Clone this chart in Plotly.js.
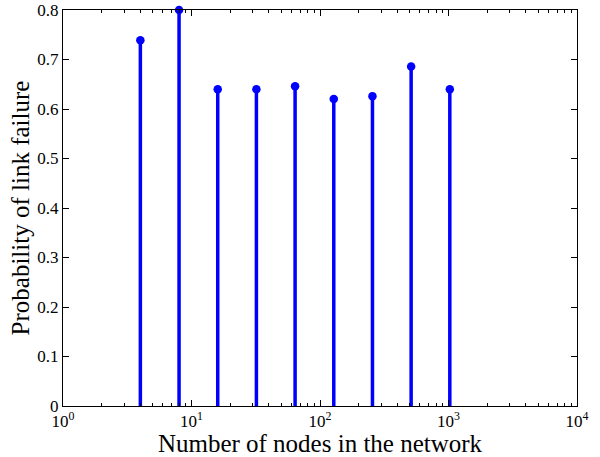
<!DOCTYPE html>
<html><head><meta charset="utf-8">
<script src="https://cdn.plot.ly/plotly-3.0.1.min.js"></script>
<style>body{margin:0;background:#fff}#c{width:600px;height:457px}</style>
</head><body><div id="c"></div>
<script>
const nodes = [4, 8, 16, 32, 64, 128, 256, 512, 1024];
const probFailure = [0.739, 0.80, 0.640, 0.640, 0.646, 0.620, 0.626, 0.686, 0.640];
const xTickVals = [1, 10, 100, 1000, 10000];
const xTickText = ['10<sup>0</sup>', '10<sup>1</sup>', '10<sup>2</sup>', '10<sup>3</sup>', '10<sup>4</sup>'];
const yTickVals = [0, 0.1, 0.2, 0.3, 0.4, 0.5, 0.6, 0.7, 0.8];
const yTickText = ['0', '0.1', '0.2', '0.3', '0.4', '0.5', '0.6', '0.7', '0.8'];

const minorVals = [];
for (let d = 1; d < 10000; d *= 10) for (let k = 2; k <= 9; k++) minorVals.push(d * k);

const sx = [], sy = [];
nodes.forEach((n, i) => { sx.push(n, n, null); sy.push(0, probFailure[i], null); });

const traces = [
  {x: sx, y: sy, mode: 'lines', line: {color: '#0000ff', width: 3.5}, hoverinfo: 'skip', cliponaxis: false},
  {x: nodes, y: probFailure, mode: 'markers', marker: {color: '#0000ff', size: 8.5}, cliponaxis: false}
];
const font = {family: '"Liberation Serif", "Times New Roman", serif', color: '#000'};
const layout = {
  width: 600, height: 457,
  margin: {l: 63, r: 23, t: 10, b: 51},
  showlegend: false,
  paper_bgcolor: '#fff', plot_bgcolor: '#fff',
  font: font,
  xaxis: {
    type: 'log', range: [0, 4],
    tickmode: 'array', tickvals: xTickVals, ticktext: xTickText,
    ticks: 'inside', ticklen: 6, tickcolor: '#000', tickwidth: 1,
    minor: {tickmode: 'array', tickvals: minorVals, ticks: 'inside', ticklen: 3, tickcolor: '#000', showgrid: false},
    showline: true, linecolor: '#000', linewidth: 1, mirror: 'ticks',
    showgrid: false, zeroline: false,
    tickfont: {family: font.family, size: 17, color: '#000'},
    title: {text: 'Number of nodes in the network', font: {family: font.family, size: 25, color: '#000'}, standoff: 0}
  },
  yaxis: {
    range: [0, 0.8],
    tickmode: 'array', tickvals: yTickVals, ticktext: yTickText,
    ticks: 'inside', ticklen: 6, tickcolor: '#000', tickwidth: 1,
    showline: true, linecolor: '#000', linewidth: 1, mirror: 'ticks',
    showgrid: false, zeroline: false,
    tickfont: {family: font.family, size: 17, color: '#000'},
    title: {text: 'Probability of link failure', font: {family: font.family, size: 25, color: '#000'}, standoff: 0}
  }
};
Plotly.newPlot('c', traces, layout, {displayModeBar: false, staticPlot: true});
</script></body></html>
